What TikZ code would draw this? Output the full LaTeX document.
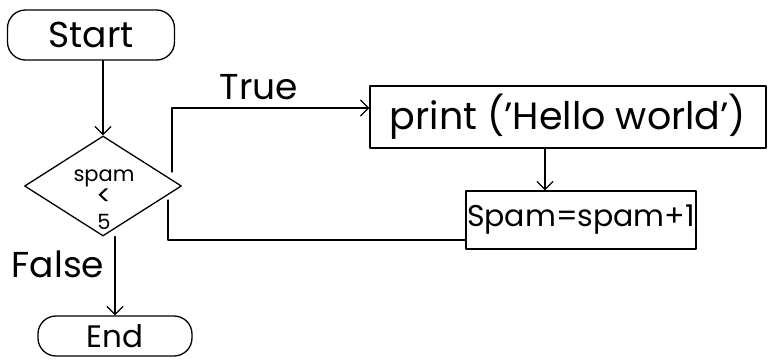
\documentclass[tikz,border=0pt]{standalone}
\usepackage{fontspec}
\setmainfont{Poppins}
\usetikzlibrary{shapes.geometric,arrows.meta}
\tikzset{
  line/.style={line width=1.3pt, line cap=round, line join=round},
  arr/.style={line, -{Straight Barb[length=8pt,width=16pt,line width=1.3pt]}},
  term/.style={line, draw, rounded corners=18pt, inner sep=0pt},
  proc/.style={line, draw, inner sep=0pt},
  big/.style={font=\fontsize{36}{38}\selectfont},
  lbl/.style={big, inner sep=0pt},
}
\begin{document}
\begin{tikzpicture}[x=1pt,y=-1pt]
\useasboundingbox (0,0) rectangle (769,362);
% terminals
\node[term, big, minimum width=167pt, minimum height=50pt] (start) at (91,35) {Start};
\node[term, font=\fontsize{31}{33}\selectfont, minimum width=154pt, minimum height=40pt] (end) at (115,336) {End};
% decision
\node[line, draw, diamond, aspect=1.6, minimum width=157pt, minimum height=100pt, inner sep=0pt] (cond) at (103,186) {};
\node[inner sep=0pt, align=center, font=\fontsize{21}{24}\selectfont] (condtext) at (104,200) {spam\\{\fontsize{28}{24}\selectfont<}\\5};
% processes
\node[proc, minimum width=396pt, minimum height=62pt, font=\fontsize{38}{40}\selectfont] (print) at (568,117) {print ('Hello world')};
\node[proc, minimum width=230pt, minimum height=58pt, font=\fontsize{30}{32}\selectfont] (inc) at (581,220) {Spam=spam+1};
% helper coordinates
\coordinate (tA) at (172,172);
\coordinate (tY) at (0,108);
\coordinate (dX) at (545,0);
\coordinate (lY) at (0,240);
\coordinate (lEnd) at (168,200);
% connectors
\draw[arr] (start.south -| cond.north) -- (cond.north);
\draw[arr] (tA) |- (print.west |- tY) node[lbl, pos=0.72, above=8pt] (truelbl) {True};
\draw[arr] (print.south -| dX) -- (inc.north -| dX);
\draw[line] (inc.west |- lY) -| (lEnd);
\draw[arr] (cond.south -| end.north) -- (end.north);
\node[lbl] (falselbl) at (58,264) {False};
\end{tikzpicture}
\end{document}
